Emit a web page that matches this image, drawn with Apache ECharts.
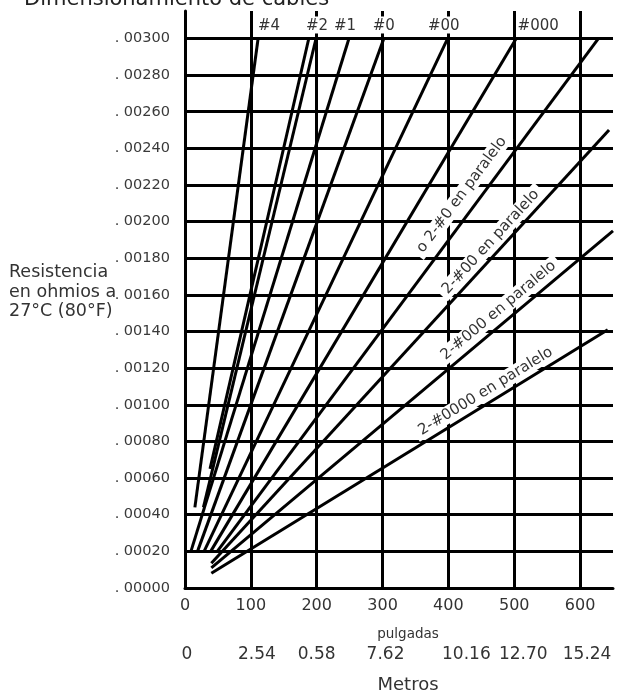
<!DOCTYPE html>
<html>
<head>
<meta charset="utf-8">
<script src="https://cdn.jsdelivr.net/npm/echarts@6/dist/echarts.min.js"></script>
<style>html,body{margin:0;padding:0;background:#fff}#c{width:621px;height:695px}</style>
</head>
<body>
<div id="c"></div>
<script>
// ---- data ----
const xTicks = [0, 100, 200, 300, 400, 500, 600];
const xTickLabels = ['0', '100', '200', '300', '400', '500', '600'];
const metrosLabels = ['0', '2.54', '0.58', '7.62', '10.16', '12.70', '15.24'];
const yTickLabels = ['. 00000', '. 00020', '. 00040', '. 00060', '. 00080', '. 00100', '. 00120', '. 00140',
  '. 00160', '. 00180', '. 00200', '. 00220', '. 00240', '. 00260', '. 00280', '. 00300'];
const yAxisTitle = 'Resistencia\nen ohmios a\n27°C (80°F)';
const chartTitle = 'Dimensionamiento de cables';

const cable4 = [[15, 0.00044], [111, 0.003]];
const cable2 = [[28, 0.00044], [199, 0.003]];
const cable2b = [[38, 0.00065], [188, 0.003]];
const cable1 = [[9, 0.0002], [249, 0.003]];
const cable0 = [[19, 0.0002], [302, 0.003]];
const cable00 = [[29, 0.0002], [399, 0.003]];
const cable000 = [[39, 0.0002], [503, 0.003]];
const par2x0 = [[49, 0.0002], [628, 0.003]];
const par2x00 = [[40, 0.000135], [644, 0.0025]];
const par2x000 = [[40, 0.00011], [650, 0.00195]];
const par2x0000 = [[40, 0.00008], [642, 0.00141]];

const topNames = ['#4', '#2', '', '#1', '#0', '#00', '#000'];
const parNames = ['o 2-#0 en paralelo', '2-#00 en paralelo', '2-#000 en paralelo', '2-#0000 en paralelo'];

// ---- styles ----
const FONT = 'DejaVu Sans';
const topLabelOffsets = [11, 1, 0, -4, 0, -4, 22];
const parLabelPos = [0.676, 0.724, 0.735, 0.707];
const parLabelDist = [8, 3, 4, 3];
const metrosShift = [2, 6, 0, 3, 18, 9, 7];

function along(pts, f) {
  return [pts[0][0] + (pts[1][0] - pts[0][0]) * f, pts[0][1] + (pts[1][1] - pts[0][1]) * f];
}

const lineStyle = { color: '#000', width: 3 };
const series = [];
[cable4, cable2, cable2b, cable1, cable0, cable00, cable000].forEach((pts, i) => {
  const name = topNames[i];
  series.push({
    type: 'line', data: pts, symbol: 'none', lineStyle: lineStyle, silent: true, z: 3,
    endLabel: name ? {
      show: true, formatter: name, distance: 0, offset: [topLabelOffsets[i], -5],
      align: 'center', verticalAlign: 'bottom',
      fontSize: 15, color: '#333', fontFamily: FONT, backgroundColor: '#fff', padding: [2, 1, 0, 1]
    } : { show: false }
  });
});
[par2x0, par2x00, par2x000, par2x0000].forEach((pts, i) => {
  const f = parLabelPos[i];
  series.push({
    type: 'line', data: pts, symbol: 'none', lineStyle: lineStyle, silent: true, z: 3,
    markLine: {
      silent: true, symbol: 'none', animation: false,
      lineStyle: { color: 'transparent', width: 0 },
      label: { show: true, position: 'insideMiddleTop', distance: parLabelDist[i], formatter: parNames[i],
        fontSize: 15, color: '#333', fontFamily: FONT, backgroundColor: '#fff', padding: [1, 5] },
      data: [[{ coord: along(pts, f - 0.25) }, { coord: along(pts, f + 0.25) }]]
    }
  });
});

const metrosRich = {};
metrosShift.forEach((s, k) => { metrosRich['m' + k] = { fontSize: 17, color: '#333', fontFamily: FONT, padding: [0, 0, 0, 2 * s] }; });

const chart = echarts.init(document.getElementById('c'));
chart.setOption({
  animation: false,
  textStyle: { fontFamily: FONT },
  title: [{
    text: chartTitle, left: 19, top: -16,
    textStyle: { fontSize: 21, fontWeight: 'normal', color: '#222', fontFamily: FONT }
  }, {
    text: yAxisTitle, left: 9, top: 263, padding: 0,
    textStyle: { fontSize: 17.5, fontWeight: 'normal', color: '#333', fontFamily: FONT, lineHeight: 19.5 }
  }],
  grid: { left: 185, right: 8, top: 11, bottom: 107, containLabel: false, outerBoundsMode: 'none' },
  xAxis: [{
    type: 'value', min: 0, max: 650, interval: 100, position: 'bottom',
    axisLine: { show: true, onZero: false, lineStyle: { color: '#000', width: 3 } },
    axisTick: { show: false },
    axisLabel: {
      fontSize: 16, color: '#333', margin: 10, showMaxLabel: false,
      formatter: v => { const k = xTicks.indexOf(Math.round(v)); return k >= 0 ? xTickLabels[k] : ''; }
    },
    splitLine: { show: true, showMinLine: false, showMaxLine: false, lineStyle: { color: '#000', width: 3 } },
    name: 'pulgadas', nameLocation: 'middle', nameGap: 39,
    nameTextStyle: { fontSize: 13.5, color: '#333', padding: [0, 0, 0, 18] }
  }, {
    type: 'value', min: 0, max: 650, interval: 100, position: 'bottom', offset: 49,
    axisLine: { show: false }, axisTick: { show: false }, splitLine: { show: false },
    axisLabel: {
      margin: 9, showMaxLabel: false, rich: metrosRich,
      formatter: v => { const k = xTicks.indexOf(Math.round(v)); return k >= 0 ? '{m' + k + '|' + metrosLabels[k] + '}' : ''; }
    },
    name: 'Metros', nameLocation: 'middle', nameGap: 39,
    nameTextStyle: { fontSize: 18, color: '#333', padding: [0, 0, 0, 18] }
  }],
  yAxis: {
    type: 'value', min: 0, max: 0.00315, interval: 0.0002,
    axisLine: { show: true, lineStyle: { color: '#000', width: 3 } },
    axisTick: { show: false },
    axisLabel: {
      fontSize: 14.5, color: '#3a3a3a', margin: 15, showMaxLabel: false,
      formatter: v => { const k = Math.round(v / 0.0002); return (Math.abs(k * 0.0002 - v) < 1e-9 && k < yTickLabels.length) ? yTickLabels[k] : ''; }
    },
    splitLine: { show: true, showMinLine: false, showMaxLine: false, lineStyle: { color: '#000', width: 3 } }
  },
  series: series
});
</script>
</body>
</html>
